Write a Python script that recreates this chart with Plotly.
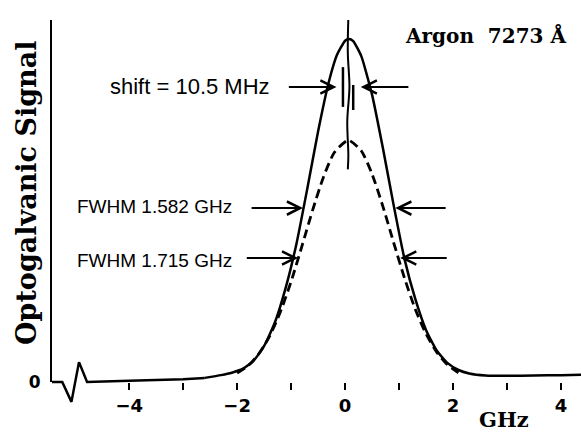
import plotly.graph_objects as go

# ---------------- data ----------------
# baseline part of the measured (solid) trace, incl. the glitch at left
base_x = [-5.43, -5.24, -5.07, -4.93, -4.78, -4.5, -4.0, -3.5, -3.0, -2.6]
base_y = [0.0, 0.0, -0.058, 0.058, 0.0, 0.002, 0.004, 0.006, 0.008, 0.012]

# peak part of the solid trace
solid_x = [-2.6, -2.3, -2.1, -1.9, -1.7, -1.5, -1.3, -1.1, -0.9, -0.7, -0.5, -0.3, -0.15,
           0.0, 0.07, 0.15, 0.3, 0.5, 0.7, 0.9, 1.1, 1.3, 1.5, 1.7, 1.9, 2.1, 2.3, 2.6,
           3.0, 3.5, 4.0, 4.37]
solid_y = [0.012, 0.020, 0.027, 0.038, 0.061, 0.105, 0.174, 0.275, 0.404, 0.564, 0.731, 0.876, 0.954,
           0.995, 1.0, 0.994, 0.950, 0.837, 0.682, 0.515, 0.359, 0.242, 0.151, 0.091, 0.055, 0.035, 0.025, 0.019,
           0.018, 0.019, 0.020, 0.021]

# dashed trace
dash_x = [-2.0, -1.8, -1.6, -1.4, -1.2, -1.0, -0.8, -0.6, -0.4, -0.2, 0.06, 0.3, 0.5,
          0.7, 0.9, 1.1, 1.3, 1.5, 1.7, 1.9, 2.1]
dash_y = [0.026, 0.047, 0.082, 0.133, 0.204, 0.293, 0.396, 0.502, 0.598, 0.669, 0.705, 0.674, 0.606,
          0.512, 0.406, 0.303, 0.212, 0.140, 0.086, 0.050, 0.027]

# centre markers
centre_x = [0.06, 0.05, 0.08, 0.04, 0.06, 0.05]
centre_y = [1.061, 0.96, 0.86, 0.76, 0.66, 0.62]
mark1_x = [-0.04, -0.04]
mark1_y = [0.918, 0.802]
mark2_x = [0.15, 0.15]
mark2_y = [0.866, 0.793]

# axis ticks
tick_vals = [-4, -3, -2, -1, 0, 1, 2, 3, 4]
tick_text = ["\u22124", "", "\u22122", "", "0", "", "2", "", "4"]

# annotation texts and arrows (tail_x, tip_x, y)
title_text = "Argon  7273 Å"
shift_text = "shift = 10.5 MHz"
fwhm1_text = "FWHM 1.582 GHz"
fwhm2_text = "FWHM 1.715 GHz"
arrows = [(-1.76, -0.78, 0.507), (1.89, 0.93, 0.507),
          (-1.85, -0.87, 0.3615), (1.91, 1.02, 0.3615),
          (-1.07, -0.16, 0.86), (1.20, 0.29, 0.86)]

XR = [-5.43, 4.37]
W, H = 581, 432
ML, MR, MT, MB = 52, 0, 20, 22
PW, PH = W - ML - MR, H - MT - MB
base_px = 382
unit_px = 343.0

def px(xp):
    return (xp - ML) / PW

def py(yp):
    return (H - MB - yp) / PH

fig = go.Figure()
# anchor trace so that the framed (axis) subplot is drawn
fig.add_trace(go.Scatter(x=[XR[0]], y=[0], mode="markers", marker=dict(opacity=0),
                         xaxis="x", yaxis="y", hoverinfo="skip"))
fig.add_trace(go.Scatter(x=base_x, y=base_y, mode="lines", line=dict(color="black", width=2.5),
                         xaxis="x2", yaxis="y2", hoverinfo="skip"))
fig.add_trace(go.Scatter(x=solid_x, y=solid_y, mode="lines",
                         line=dict(color="black", width=2.5, shape="spline", smoothing=0.5),
                         xaxis="x2", yaxis="y2", hoverinfo="skip"))
fig.add_trace(go.Scatter(x=dash_x, y=dash_y, mode="lines",
                         line=dict(color="black", width=2.8, dash="9px,5px", shape="spline", smoothing=0.6),
                         xaxis="x2", yaxis="y2", hoverinfo="skip"))
fig.add_trace(go.Scatter(x=centre_x, y=centre_y, mode="lines", line=dict(color="black", width=2, shape="spline"),
                         xaxis="x2", yaxis="y2", hoverinfo="skip"))
fig.add_trace(go.Scatter(x=mark1_x, y=mark1_y, mode="lines", line=dict(color="black", width=2.5),
                         xaxis="x2", yaxis="y2", hoverinfo="skip"))
fig.add_trace(go.Scatter(x=mark2_x, y=mark2_y, mode="lines", line=dict(color="black", width=2.5),
                         xaxis="x2", yaxis="y2", hoverinfo="skip"))

y2_bottom = -(H - MB - base_px) / unit_px
y2_top = (base_px - MT) / unit_px
y1_dom0 = py(base_px)

annos = []
for tail, tip, yv in arrows:
    annos.append(dict(x=tip, y=yv, ax=tail, ay=yv, xref="x2", yref="y2", axref="x2", ayref="y2",
                      text="", showarrow=True, arrowhead=5, arrowsize=1.3, arrowwidth=2,
                      arrowcolor="black"))

serif = "DejaVu Serif"
sans = "Liberation Sans, Arial, sans-serif"
annos += [
    dict(x=px(568), y=py(36), xref="paper", yref="paper", text=title_text, showarrow=False,
         xanchor="right", yanchor="middle", font=dict(family=serif, size=20, color="black", weight="bold")),
    dict(x=px(272), y=py(87), xref="paper", yref="paper", text=shift_text, showarrow=False,
         xanchor="right", yanchor="middle", font=dict(family=sans, size=22, color="black")),
    dict(x=px(75), y=py(207), xref="paper", yref="paper", text=fwhm1_text, showarrow=False,
         xanchor="left", yanchor="middle", font=dict(family=sans, size=19, color="black")),
    dict(x=px(75), y=py(260), xref="paper", yref="paper", text=fwhm2_text, showarrow=False,
         xanchor="left", yanchor="middle", font=dict(family=sans, size=19, color="black")),
    dict(x=px(504), y=py(420), xref="paper", yref="paper", text="GHz", showarrow=False,
         xanchor="center", yanchor="middle", font=dict(family=serif, size=21, color="black", weight="bold")),
    dict(x=px(26), y=py(193), xref="paper", yref="paper", text="Optogalvanic Signal", showarrow=False,
         textangle=-90, xanchor="center", yanchor="middle",
         font=dict(family=serif, size=27, color="black", weight="bold")),
]

fig.update_layout(
    width=W, height=H, margin=dict(l=ML, r=MR, t=MT, b=MB),
    paper_bgcolor="white", plot_bgcolor="rgba(0,0,0,0)", showlegend=False,
    xaxis=dict(domain=[0, 1], range=XR, anchor="y", showgrid=False, zeroline=False, showline=False,
               ticks="outside", ticklen=7, tickwidth=2, tickcolor="black",
               tickvals=tick_vals, ticktext=tick_text,
               tickfont=dict(family="DejaVu Sans", size=18, color="black", weight="bold")),
    yaxis=dict(domain=[y1_dom0, 1], range=[0, y2_top], anchor="x", showgrid=False, zeroline=False,
               showline=True, linewidth=2, linecolor="black", ticks="",
               tickvals=[0], ticktext=["0"], ticklabelstandoff=6,
               tickfont=dict(family="DejaVu Sans", size=17, color="black", weight="bold")),
    xaxis2=dict(domain=[0, 1], range=XR, anchor="y2", visible=False),
    yaxis2=dict(domain=[0, 1], range=[y2_bottom, y2_top], anchor="x2", visible=False),
    annotations=annos,
)

fig.write_html("out.html")
